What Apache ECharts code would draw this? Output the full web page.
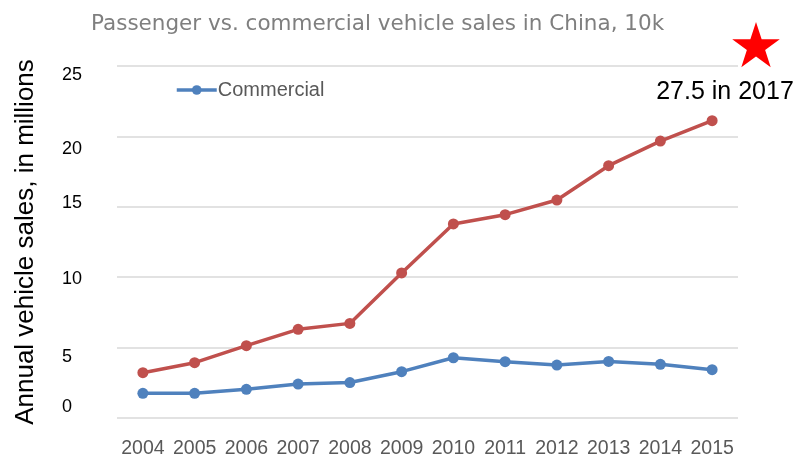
<!DOCTYPE html>
<html><head><meta charset="utf-8">
<script src="https://cdn.jsdelivr.net/npm/echarts@6/dist/echarts.min.js"></script>
<style>html,body{margin:0;padding:0;background:#fff}#c{width:803px;height:459px}</style>
</head><body><div id="c"></div>
<script>
const years = ['2004','2005','2006','2007','2008','2009','2010','2011','2012','2013','2014','2015'];
const passenger = [3.22, 3.93, 5.14, 6.30, 6.72, 10.30, 13.78, 14.44, 15.48, 17.92, 19.67, 21.12];
const commercial = [1.75, 1.75, 2.04, 2.41, 2.52, 3.29, 4.28, 4.00, 3.76, 4.02, 3.81, 3.43];
const yTicks = [0, 5, 10, 15, 20, 25];
// per-label vertical nudges (px) as seen in the reference
const labelShift = {0: -11, 5: 9, 10: 2, 15: -4, 20: 13, 25: 9};
const titleText = 'Passenger vs. commercial vehicle sales in China, 10k';
const yName = 'Annual vehicle sales, in millions';
const noteText = '27.5 in 2017';

const rich = {};
yTicks.forEach(v => {
  const s = labelShift[v];
  rich['t' + v] = {
    fontSize: 18, color: '#000', fontFamily: 'Liberation Sans',
    padding: s >= 0 ? [2 * s, 0, 0, 0] : [0, 0, -2 * s, 0]
  };
});

function starPoints(cx, cy, R, r) {
  const pts = [];
  for (let i = 0; i < 10; i++) {
    const rad = i % 2 === 0 ? R : r;
    const a = -Math.PI / 2 + i * Math.PI / 5;
    pts.push([cx + rad * Math.cos(a), cy + rad * Math.sin(a)]);
  }
  return pts;
}

const chart = echarts.init(document.getElementById('c'), null, {renderer: 'canvas'});
chart.setOption({
  animation: false,
  backgroundColor: '#fff',
  title: {
    text: titleText, left: 86, top: 8,
    textStyle: {fontFamily: 'DejaVu Sans', fontSize: 21.5, fontWeight: 'normal', color: '#7f7f7f'}
  },
  legend: {
    data: ['Commercial'], left: 170, top: 75,
    itemWidth: 40, itemHeight: 12, itemGap: 2,
    lineStyle: {width: 3.5},
    textStyle: {fontFamily: 'Liberation Sans', fontSize: 20, color: '#595959', padding: [0, 0, 0, -4]}
  },
  grid: {left: 117, right: 65, top: 66, bottom: 41},
  xAxis: {
    type: 'category', data: years, boundaryGap: true,
    axisLine: {show: false}, axisTick: {show: false},
    axisLabel: {interval: 0, hideOverlap: false, fontFamily: 'Liberation Sans', fontSize: 19.5, color: '#595959', margin: 21}
  },
  yAxis: {
    type: 'value', min: 0, max: 25, interval: 5,
    name: yName, nameLocation: 'middle', nameRotate: 90, nameGap: 78,
    nameTextStyle: {fontFamily: 'Liberation Sans', fontSize: 26, color: '#000'},
    axisLine: {show: false}, axisTick: {show: false},
    splitLine: {lineStyle: {color: '#d9d9d9', width: 1.5}},
    axisLabel: {
      align: 'left', margin: 55,
      formatter: v => '{t' + v + '|' + v + '}',
      rich: rich
    }
  },
  series: [
    {
      name: 'Passenger', type: 'line', data: passenger,
      symbol: 'circle', symbolSize: 11,
      lineStyle: {color: '#C0504D', width: 3.5},
      itemStyle: {color: '#C0504D'}
    },
    {
      name: 'Commercial', type: 'line', data: commercial,
      symbol: 'circle', symbolSize: 11,
      lineStyle: {color: '#4F81BD', width: 3.5},
      itemStyle: {color: '#4F81BD'}
    }
  ],
  graphic: [
    {type: 'polygon', shape: {points: starPoints(756, 47, 25, 9.6)}, style: {fill: '#FF0000'}},
    {type: 'text', x: 725, y: 92, style: {text: noteText, fontFamily: 'Liberation Sans', fontSize: 25, fill: '#000', textAlign: 'center', textVerticalAlign: 'middle'}}
  ]
});
</script></body></html>
